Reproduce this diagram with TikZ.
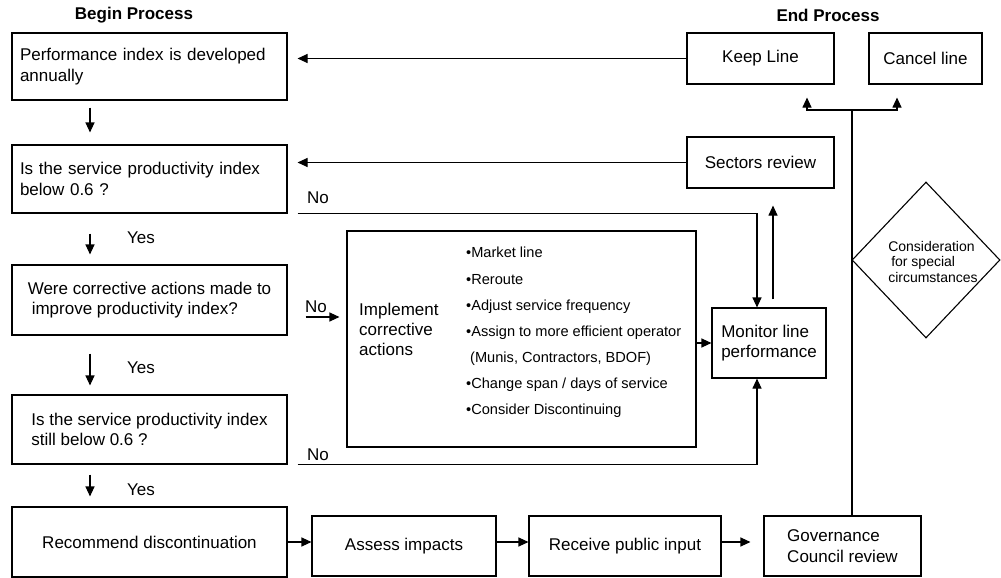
\documentclass[tikz,border=0pt]{standalone}
\usepackage{fontspec}
\setmainfont{Liberation Sans}
\usetikzlibrary{arrows.meta,shapes.geometric}

\newcommand\txtbig{\fontsize{17}{20.5}\selectfont}
\newcommand\txtlist{\fontsize{14.6}{26.1}\selectfont}
\newcommand\txtdiam{\fontsize{14}{15.5}\selectfont}

\tikzset{
  box/.style={draw, line width=1.1pt, inner sep=0pt, font=\txtbig},
  arr/.style={-{Triangle[length=10pt,width=9pt]}, line width=1.1pt},
  lbl/.style={font=\txtbig, inner sep=0pt},
  head/.style={font=\txtbig\bfseries, inner sep=0pt},
}

\begin{document}
\begin{tikzpicture}[x=1pt,y=-1pt]
    \useasboundingbox (0,0) rectangle (1001,578);
    % titles
    \node[head] (begin) at (134,15) {Begin Process};
    \node[head] (end) at (828,15) {End Process};
    % left column
    \node[box, minimum width=275pt, minimum height=67pt, text width=259pt, align=left] (perf) at (149.5,66.5) {Performance index is developed\\annually};
    \node[box, minimum width=275pt, minimum height=68pt, text width=259pt, align=left] (svc) at (149.5,179) {Is the service productivity index\\below 0.6 ?};
    \node[box, minimum width=275pt, minimum height=70pt, align=left] (corr) at (149.5,300) {Were corrective actions made to\\\hspace*{4pt}improve productivity index?};
    \node[box, minimum width=275pt, minimum height=69pt, align=left] (still) at (149.5,429.5) {Is the service productivity index\\still below 0.6 ?};
    \node[box, minimum width=275pt, minimum height=70pt] (rec) at (149.5,542) {Recommend discontinuation};
    % bottom row
    \node[box, minimum width=184pt, minimum height=60pt] (assess) at (404,546) {Assess impacts};
    \node[box, minimum width=192pt, minimum height=60pt] (receive) at (625,546) {Receive public input};
    \node[box, minimum width=157pt, minimum height=60pt, align=left] (gov) at (842.5,546) {Governance\\Council review};
    % middle
    \node[box, minimum width=349pt, minimum height=216pt] (impl) at (521.5,339) {};
    \node[anchor=west, inner sep=0pt, align=left, font=\fontsize{17}{20}\selectfont] (impltxt) at (359,329) {Implement\\corrective\\actions};
    \node[anchor=west, inner sep=0pt, align=left, font=\txtlist] (fixes) at (466,332.5) {•Market line\\•Reroute\\•Adjust service frequency\\•Assign to more efficient operator\\\hspace*{4pt}(Munis, Contractors, BDOF)\\•Change span / days of service\\•Consider Discontinuing};
    \node[box, minimum width=114pt, minimum height=70pt, align=left] (mon) at (769,343) {Monitor line\\performance};
    % right column
    \node[box, minimum width=147pt, minimum height=51pt] (keep) at (760.5,58.5) {Keep Line};
    \node[box, minimum width=113pt, minimum height=51pt] (cancel) at (925.5,58.5) {Cancel line};
    \node[box, minimum width=147pt, minimum height=51pt] (sectors) at (760.5,162.5) {Sectors review};
    \node[diamond, draw, line width=1.1pt, inner sep=0pt, minimum width=148pt, minimum height=156pt] (special) at (926,260) {};
    \node[inner sep=0pt, align=left, font=\txtdiam] (specialtxt) at (933,261.5) {Consideration\\\hspace*{3pt}for special\\circumstances};
    % labels
    \node[lbl] (yes1) at (141,238) {Yes};
    \node[lbl] (yes2) at (141,368) {Yes};
    \node[lbl] (yes3) at (141,490) {Yes};
    \node[lbl] (no1) at (318,198) {No};
    \node[lbl] (no2) at (316,307) {No};
    \node[lbl] (no3) at (318,455) {No};
    % helper points
    \coordinate (nostart) at ([xshift=18pt,yshift=-17pt]corr.east);
    \coordinate (upfoot) at ([xshift=4pt]mon.north);
    \coordinate (split) at (852,110);
    \coordinate (keepin) at ([xshift=46.5pt,yshift=-13pt]keep.south);
    \coordinate (cancelin) at ([xshift=-28.5pt,yshift=-13pt]cancel.south);
    % connectors
    \draw[arr, shorten >=10pt] (keep.west) -- (keep.west -| perf.east);
    \draw[arr, shorten >=10pt] (sectors.west) -- (sectors.west -| svc.east);
    \draw[arr, shorten <=7pt, shorten >=12pt] ([xshift=-59.5pt]perf.south) -- ([xshift=-59.5pt]svc.north);
    \draw[arr, shorten <=20pt, shorten >=10pt] ([xshift=-59.5pt]svc.south) -- ([xshift=-59.5pt]corr.north);
    \draw[arr, shorten <=18pt, shorten >=9pt] ([xshift=-59.5pt]corr.south) -- ([xshift=-59.5pt]still.north);
    \draw[arr, shorten <=10pt, shorten >=10pt] ([xshift=-59.5pt]still.south) -- ([xshift=-59.5pt]rec.north);
    \draw[arr] ([xshift=10pt]svc.south east) -| ([xshift=-12pt]mon.north);
    \draw[arr, shorten <=8pt, shorten >=17pt] (upfoot) -- (upfoot |- sectors.south);
    \draw[arr, shorten >=7pt] (nostart) -- (nostart -| impl.west);
    \draw[arr] (impl.east |- mon.west) -- (mon.west);
    \draw[arr] ([xshift=10pt]still.south east) -| ([xshift=-12pt]mon.south);
    \draw[arr] (rec.east) -- (rec.east -| assess.west);
    \draw[arr] (assess.east |- rec.east) -- (receive.west |- rec.east);
    \draw[arr, shorten >=13pt] (receive.east |- rec.east) -- (gov.west |- rec.east);
    \draw[line width=1.1pt] (gov.north -| split) -- (split);
    \draw[arr] (split) -| (keepin);
    \draw[arr] (split) -| (cancelin);
\end{tikzpicture}
\end{document}
